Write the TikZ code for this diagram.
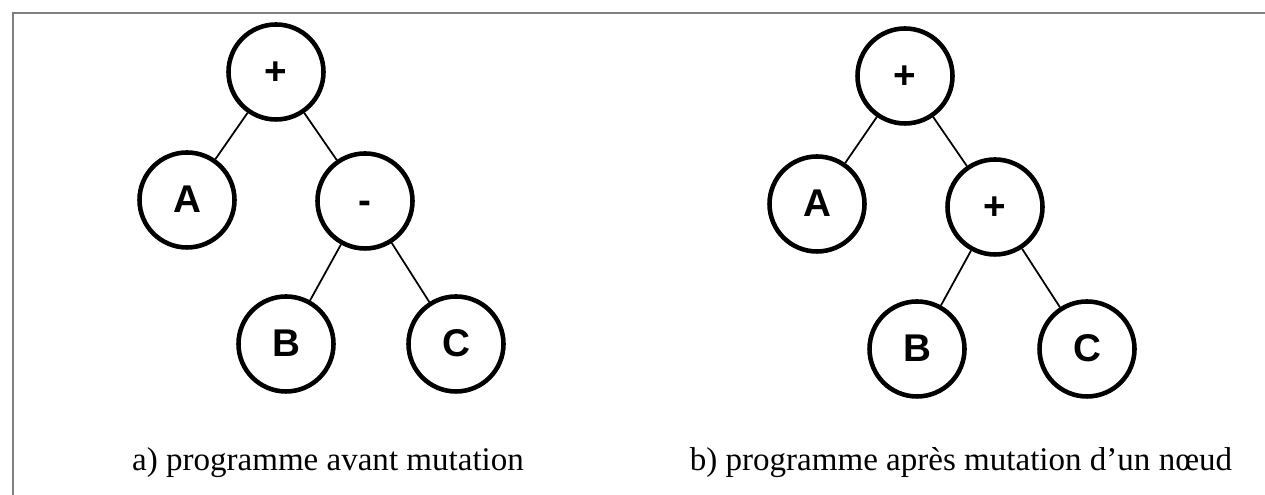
\documentclass[tikz,border=0pt]{standalone}
\usepackage{fontspec}
\setmainfont{Liberation Serif}
\newfontfamily\noeudfont{Liberation Sans}
\usepackage{tikz}
\usetikzlibrary{calc}

\begin{document}
\begin{tikzpicture}[line width=0.5pt,
    noeud/.style={circle,draw,line width=1.3pt,minimum size=0.95cm,inner sep=0pt,
      text height=0.72em,text depth=0pt,
      font=\noeudfont\bfseries\fontsize{11}{13}\selectfont},
    legende/.style={font=\fontsize{9.4}{11}\selectfont}]
  \useasboundingbox (0,0) rectangle (12.65,4.95);
  % cadre (haut et gauche)
  \draw[black!50,line width=0.7pt] (12.65,4.82) -- (0.13,4.82) -- (0.13,0);

  % a) avant mutation
  \node[noeud] (a1) at (2.76,4.23) {+};
  \node[noeud] (a2) at (1.87,2.95) {A};
  \node[noeud] (a3) at (3.65,2.94) {-};
  \node[noeud] (a4) at (2.86,1.51) {B};
  \node[noeud] (a5) at (4.56,1.51) {C};

  \path (a1) edge (a2)
  (a1) edge (a3)
  (a3) edge (a4)
  (a3) edge (a5);

  % b) apres mutation
  \node[noeud] (b1) at (9.05,4.19) {+};
  \node[noeud] (b2) at (8.17,2.91) {A};
  \node[noeud] (b3) at (9.95,2.88) {+};
  \node[noeud] (b4) at (9.17,1.46) {B};
  \node[noeud] (b5) at (10.87,1.46) {C};

  \path (b1) edge (b2)
  (b1) edge (b3)
  (b3) edge (b4)
  (b3) edge (b5);

  \node[legende] (la) at (3.28,0.32) {a) programme avant mutation};
  \node[legende] (lb) at (9.61,0.32) {b) programme après mutation d’un nœud};
\end{tikzpicture}
\end{document}
